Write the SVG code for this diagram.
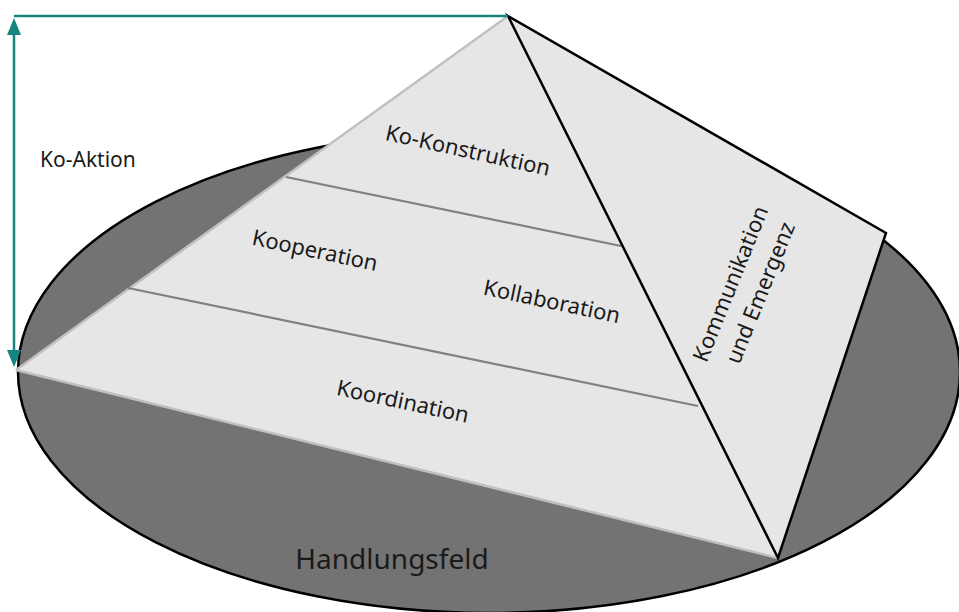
<svg xmlns="http://www.w3.org/2000/svg" width="959" height="612" viewBox="0 0 959 612">
  <style>
    text { font-family: "Noto Sans", "DejaVu Sans", sans-serif; fill: #1a1a1a; }
    .lbl { font-size: 22px; text-anchor: middle; }
    .face { fill: #e6e6e6; stroke: none; }
    .divider { stroke: #808080; stroke-width: 2.2; fill: none; }
    .edge-light { stroke: #c0c0c0; stroke-width: 2.5; fill: none; }
    .edge-dark { stroke: #000; stroke-width: 2.5; fill: none; stroke-linejoin: miter; }
    .axis { stroke: #14867f; stroke-width: 2.5; fill: none; }
  </style>
  <defs>
    <marker id="tip" viewBox="0 0 17 14" refX="0" refY="7" markerWidth="17" markerHeight="14" orient="auto-start-reverse" markerUnits="userSpaceOnUse">
      <path d="M0,0 L17,7 L0,14 Z" fill="#14867f"/>
    </marker>
  </defs>

  <rect width="959" height="612" fill="#fff"/>

  <!-- ground plane -->
  <g id="handlungsfeld">
    <ellipse cx="489" cy="372" rx="471" ry="241" fill="#737373" stroke="#000" stroke-width="2.5"/>
    <text x="392" y="569" style="font-size:28px;text-anchor:middle">Handlungsfeld</text>
  </g>

  <!-- front face with its three layers -->
  <g id="pyramide-front">
    <polygon class="face" points="508,16 16,370 778,558"/>
    <line class="edge-light" x1="508" y1="16" x2="16" y2="370"/>
    <line class="edge-light" x1="16" y1="370" x2="778" y2="558"/>
  </g>

  <g id="schichten">
    <line class="divider" x1="286" y1="177" x2="621" y2="246"/>
    <line class="divider" x1="128" y1="288" x2="698" y2="406"/>
  </g>

  <!-- side face -->
  <g id="pyramide-seite">
    <polygon class="face" points="508,16 886,233 778,558"/>
    <polygon class="edge-dark" points="508,16 886,233 778,558"/>
  </g>

  <g id="ko-konstruktion">
    <text class="lbl" transform="translate(468,150) rotate(12.5)" y="8">Ko-Konstruktion</text>
  </g>
  <g id="kooperation">
    <text class="lbl" transform="translate(315,250) rotate(12)" y="8">Kooperation</text>
  </g>
  <g id="kollaboration">
    <text class="lbl" transform="translate(552,301) rotate(12)" y="8">Kollaboration</text>
  </g>
  <g id="koordination">
    <text class="lbl" transform="translate(403,401) rotate(12)" y="8">Koordination</text>
  </g>
  <g id="kommunikation">
    <text class="lbl" transform="translate(746,287) rotate(-68)">
      <tspan x="0" y="-8">Kommunikation</tspan>
      <tspan x="0" y="23">und Emergenz</tspan>
    </text>
  </g>

  <!-- height axis -->
  <g id="connectors">
    <line class="axis" x1="14" y1="16" x2="508" y2="16"/>
    <line class="axis" x1="14" y1="35" x2="14" y2="350" marker-start="url(#tip)" marker-end="url(#tip)"/>
  </g>
  <g id="ko-aktion">
    <text x="40" y="167" style="font-size:21px">Ko-Aktion</text>
  </g>
</svg>
